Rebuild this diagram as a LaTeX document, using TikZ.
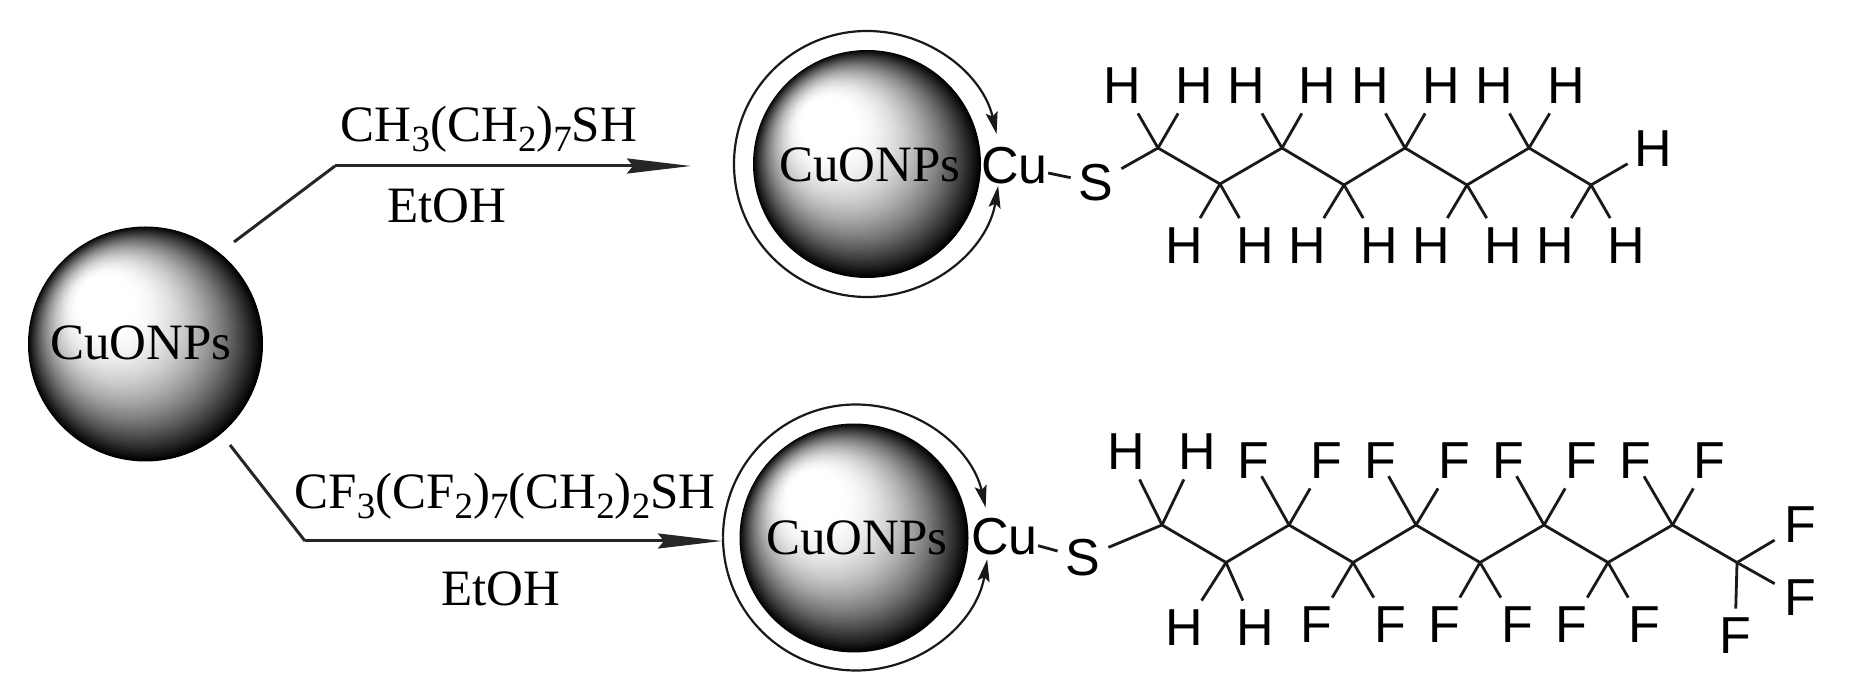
\documentclass[tikz,border=0pt]{standalone}
\usepackage{fontspec}
\setmainfont{Liberation Serif}
\newfontfamily\atomfont{Liberation Sans}
\usetikzlibrary{arrows.meta}
\tikzset{
	reagent/.style={font=\fontsize{25.5pt}{30pt}\selectfont,inner sep=0pt},
	ball/.style={reagent,circle},
	atom/.style={font=\atomfont\fontsize{26pt}{30pt}\selectfont,inner sep=0pt,minimum width=25pt,minimum height=27pt},
	metal/.style={atom,minimum width=0pt},
	bond/.style={line width=1.4pt,draw=black!90},
	longbond/.style={bond,shorten >=-7pt},
	feed/.style={line width=1.5pt,draw=black!85},
	reaction/.style={feed,-{Stealth[length=32pt,width=7.5pt,inset=3pt]}},
	ringarrow/.style={line width=1.1pt,draw=black!90,-{Stealth[length=11pt,width=6pt,inset=2pt]}}
}
\newcommand{\subs}[1]{\raisebox{-5pt}{\fontsize{18.5pt}{18.5pt}\selectfont #1}}
% sphere: circles that shrink towards the highlight
\newcommand{\cuball}[3]{
	\foreach \t in {0,...,79}{
		\pgfmathsetmacro{\shadeval}{100*max(1-\t/62,0)^1.8}
		\fill[black!\shadeval!white] ({#1-0.45*#3*\t/80},{#2+0.45*#3*\t/80}) circle[radius={#3*(1-\t/80)*0.5pt}];
	}
}
\begin{document}
\begin{tikzpicture}[x=0.5pt,y=0.5pt]
	\useasboundingbox (0,0) rectangle (1855,695);
	\cuball{145.5}{351}{117.5}
	\cuball{867}{531}{114}
	\cuball{854}{157}{114.5}
	\node[ball](np1) at (141,352) {CuONPs};
	\node[ball](np2) at (870,530) {CuONPs};
	\node[ball](np3) at (857,157) {CuONPs};

	% feed lines and reagents
	\coordinate (out1) at (234,453);
	\coordinate (bend1) at (335,529);
	\coordinate (tip1) at (691,529);
	\coordinate (out2) at (230,250);
	\coordinate (bend2) at (305,154);
	\coordinate (tip2) at (722,154);
	\draw[feed] (out1) -- (bend1);
	\draw[reaction] (bend1) -- (tip1);
	\draw[feed] (out2) -- (bend2);
	\draw[reaction] (bend2) -- (tip2);
	\node[reagent,anchor=base](thiol1) at (489,553) {CH\subs{3}(CH\subs{2})\subs{7}SH};
	\node[reagent,anchor=base](etoh1) at (447,472) {EtOH};
	\node[reagent,anchor=base](thiol2) at (505,186) {CF\subs{3}(CF\subs{2})\subs{7}(CH\subs{2})\subs{2}SH};
	\node[reagent,anchor=base](etoh2) at (501,89.5) {EtOH};

	% rings round the particles
	\coordinate (ring1) at (867,531);
	\coordinate (ring2) at (856,157.5);
	\foreach \r in {ring1,ring2}{
		\draw[ringarrow] (\r) ++(180:66.5pt) arc[start angle=180,end angle=13,radius=66.5pt];
		\draw[ringarrow] (\r) ++(180:66.5pt) arc[start angle=180,end angle=350.5,radius=66.5pt];
	}

	% upper chain
	\node[metal](cu1) at (1014.5,529) {Cu};
	\node[atom](s1) at (1096,512) {S};
	\foreach \n/\x/\y in {1/1158/547,2/1220/511,3/1282/547,4/1344/510,5/1405/547,6/1467/510,7/1529/547,8/1591/510}
		\coordinate (a\n) at (\x,\y);
	\draw[bond] (cu1) -- (s1);
	\draw[bond] (s1) -- (a1) -- (a2) -- (a3) -- (a4) -- (a5) -- (a6) -- (a7) -- (a8);
	\foreach \n/\x/\y/\c in {1/1122/609/a1,2/1194/609/a1,3/1246/609/a3,4/1317.5/609/a3,5/1370/609/a5,6/1441/609/a5,7/1494/609/a7,8/1566/609/a7,
		9/1184/449.5/a2,10/1255/449.5/a2,11/1307/449.5/a4,12/1379/449.5/a4,13/1431/449.5/a6,14/1503/449.5/a6,15/1555/449.5/a8,16/1626/449.5/a8,17/1653/546/a8}{
		\node[atom](h\n) at (\x,\y) {H};
		\draw[bond] (\c) -- (h\n);
	}

	% lower chain
	\node[metal](cu2) at (1004.5,158.5) {Cu};
	\node[atom](s2) at (1083,137) {S};
	\foreach \n/\x/\y in {1/1162/170,2/1226/132.5,3/1289/170,4/1353/132.5,5/1416/170,6/1480/132.5,7/1544/170,8/1608/132.5,9/1672.5/170,10/1737/132.5}
		\coordinate (b\n) at (\x,\y);
	\draw[bond] (cu2) -- (s2);
	\draw[bond] (s2) -- (b1) -- (b2) -- (b3) -- (b4) -- (b5) -- (b6) -- (b7) -- (b8) -- (b9) -- (b10);
	\foreach \n/\x/\y/\c in {1/1126/243/b1,2/1197/243/b1,3/1184/67/b2,4/1255/67/b2}{
		\node[atom](k\n) at (\x,\y) {H};
		\draw[bond] (\c) -- (k\n);
	}
	\foreach \n/\x/\c in {1/1253/b3,2/1380/b5,3/1508/b7,4/1635/b9}{
		\node[atom](f\n) at (\x,234) {F};
		\draw[longbond] (\c) -- (f\n);
	}
	\foreach \n/\x/\y/\c in {5/1326/234/b3,6/1454.5/234/b5,7/1581/234/b7,8/1709/234/b9,
		9/1316/70/b4,10/1390/70/b4,11/1444/70/b6,12/1517/70/b6,13/1571/70/b8,14/1644/70/b8,
		15/1800/170/b10,16/1800/97/b10,17/1735/59/b10}{
		\node[atom](f\n) at (\x,\y) {F};
		\draw[bond] (\c) -- (f\n);
	}
\end{tikzpicture}
\end{document}
